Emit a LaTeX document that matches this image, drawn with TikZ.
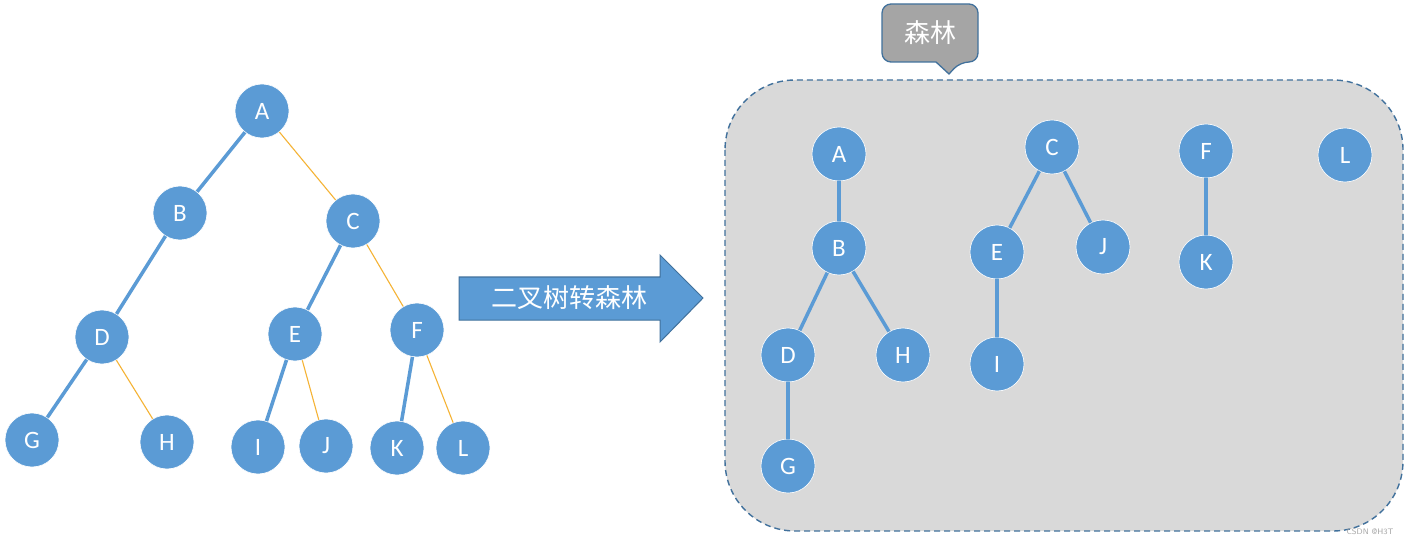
\documentclass[tikz,border=0pt]{standalone}
\usepackage{fontspec}
\setmainfont{Carlito}
\newfontfamily\cjk{Noto Sans CJK SC}
\usetikzlibrary{calc}
\definecolor{nodeblue}{HTML}{5B9BD5}
\definecolor{darkblue}{HTML}{41719C}
\definecolor{gold}{HTML}{F5B335}
\definecolor{panel}{HTML}{D9D9D9}
\definecolor{calloutgray}{HTML}{A5A5A5}
\tikzset{
  tnode/.style={circle, fill=nodeblue, draw=white, line width=0.6pt, minimum size=54pt, inner sep=0pt, text=white, font=\fontsize{25}{27}\selectfont},
  blueedge/.style={draw=nodeblue, line width=3.5pt},
  goldedge/.style={draw=gold, line width=1.1pt},
}
\begin{document}
\begin{tikzpicture}[x=1pt,y=-1pt]
\useasboundingbox (0,0) rectangle (1410,545);
\fill[white] (0,0) rectangle (1410,545);
% panel
\draw[fill=panel, draw=darkblue, line width=1.4pt, dash pattern=on 6pt off 4pt, rounded corners=70pt] (725,80) rectangle (1403,531);
% callout
\draw[fill=calloutgray, draw=darkblue, line width=1.3pt, rounded corners=9pt]
  (882,4) -- (978,4) -- (978,62) -- (960,62) [sharp corners] -- (949,74) -- (936,62) [rounded corners=9pt] -- (882,62) -- cycle;
\node[text=white, font=\cjk\fontsize{26}{28}\selectfont] (callout) at (930,33) {森林};
% arrow
\draw[fill=nodeblue, draw=darkblue, line width=1pt]
  (459,277) -- (660,277) -- (660,255) -- (703,298) -- (660,342) -- (660,320) -- (459,320) -- cycle;
\node[text=white, font=\cjk\fontsize{26}{28}\selectfont] (arrowtext) at (569,298) {二叉树转森林};
% watermark
\node[text=gray!70, font=\fontsize{8}{9}\selectfont\sffamily, anchor=west] (wm) at (1343,532) {CSDN @H3T};
% left tree
\node[tnode] (A) at (262,111) {A};
\node[tnode] (B) at (180,213) {B};
\node[tnode] (C) at (353,221) {C};
\node[tnode] (D) at (102,337) {D};
\node[tnode] (E) at (295,334) {E};
\node[tnode] (F) at (417,330) {F};
\node[tnode] (G) at (32,440) {G};
\node[tnode] (H) at (167,442) {H};
\node[tnode] (I) at (258,447) {I};
\node[tnode] (J) at (326,446) {J};
\node[tnode] (K) at (397,448) {K};
\node[tnode] (L) at (463,448) {L};
\path[blueedge] (A) -- (B);
\path[goldedge] (A) -- (C);
\path[blueedge] (B) -- (D);
\path[blueedge] (C) -- (E);
\path[goldedge] (C) -- (F);
\path[blueedge] (D) -- (G);
\path[goldedge] (D) -- (H);
\path[blueedge] (E) -- (I);
\path[goldedge] (E) -- (J);
\path[blueedge] (F) -- (K);
\path[goldedge] (F) -- (L);
% right forest
\node[tnode] (rA) at (839,154) {A};
\node[tnode] (rB) at (839,248) {B};
\node[tnode] (rC) at (1052,147) {C};
\node[tnode] (rD) at (788,355) {D};
\node[tnode] (rE) at (997,252) {E};
\node[tnode] (rF) at (1206,151) {F};
\node[tnode] (rG) at (788,466) {G};
\node[tnode] (rH) at (903,355) {H};
\node[tnode] (rI) at (997,364) {I};
\node[tnode] (rJ) at (1103,247) {J};
\node[tnode] (rK) at (1206,262) {K};
\node[tnode] (rL) at (1345,155) {L};
\path[blueedge] (rA) -- (rB);
\path[blueedge] (rB) -- (rD);
\path[blueedge] (rB) -- (rH);
\path[blueedge] (rD) -- (rG);
\path[blueedge] (rC) -- (rE);
\path[blueedge] (rC) -- (rJ);
\path[blueedge] (rE) -- (rI);
\path[blueedge] (rF) -- (rK);
\end{tikzpicture}
\end{document}
